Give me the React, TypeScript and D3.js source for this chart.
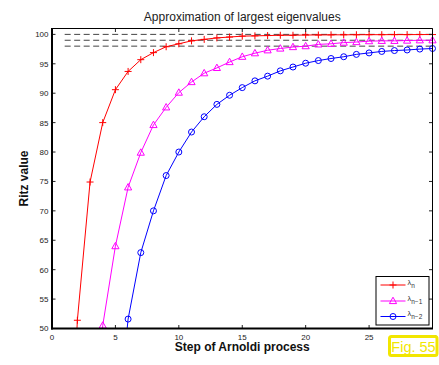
import React from "react";
import * as d3 from "d3";

// Arnoldi iteration step numbers and the Ritz values for the three largest eigenvalues
const stepsN = [1, 2, 3, 4, 5, 6, 7, 8, 9, 10, 11, 12, 13, 14, 15, 16, 17, 18, 19, 20, 21, 22, 23, 24, 25, 26, 27, 28, 29, 30];
const ritzN = [5, 51.4, 74.9, 85.0, 90.6, 93.7, 95.7, 96.9, 97.9, 98.4, 98.9, 99.15, 99.4, 99.55, 99.7, 99.75, 99.8, 99.85, 99.85, 99.9, 99.9, 99.92, 99.93, 99.94, 99.95, 99.95, 99.96, 99.96, 99.97, 99.97];

const stepsN1 = [2, 3, 4, 5, 6, 7, 8, 9, 10, 11, 12, 13, 14, 15, 16, 17, 18, 19, 20, 21, 22, 23, 24, 25, 26, 27, 28, 29, 30];
const ritzN1 = [10, 20, 50.5, 64.0, 74.0, 79.9, 84.6, 87.6, 90.1, 91.9, 93.4, 94.3, 95.3, 96.2, 96.8, 97.3, 97.6, 97.85, 98.0, 98.3, 98.4, 98.6, 98.7, 98.85, 98.9, 98.9, 98.95, 99.0, 99.0];

const stepsN2 = [3, 4, 5, 6, 7, 8, 9, 10, 11, 12, 13, 14, 15, 16, 17, 18, 19, 20, 21, 22, 23, 24, 25, 26, 27, 28, 29, 30];
const ritzN2 = [5, 15, 30, 51.6, 62.9, 70.0, 76.0, 80.0, 83.4, 86.0, 88.1, 89.65, 90.95, 92.1, 92.9, 93.8, 94.45, 95.1, 95.55, 95.9, 96.2, 96.6, 96.85, 97.1, 97.25, 97.35, 97.5, 97.6];

// Exact eigenvalues drawn as dashed reference lines
const exactEigenvalues = [100, 99, 98];
const exactFromStep = 1;

const xTicks = [0, 5, 10, 15, 20, 25, 30];
const yTicks = [50, 55, 60, 65, 70, 75, 80, 85, 90, 95, 100];

const W = 439;
const H = 365;
const L = 52;
const R = 432.5;
const T = 28.5;
const B = 328.5;
const FONT = "'Liberation Sans', Arial, Helvetica, sans-serif";

type Series = {
  steps: number[];
  values: number[];
  color: string;
  marker: "plus" | "triangle" | "circle";
  sub: string;
};

const series: Series[] = [
  { steps: stepsN, values: ritzN, color: "#ff0000", marker: "plus", sub: "n" },
  { steps: stepsN1, values: ritzN1, color: "#ff00ff", marker: "triangle", sub: "n\u22121" },
  { steps: stepsN2, values: ritzN2, color: "#0000ff", marker: "circle", sub: "n\u22122" },
];

function Marker({ kind, x, y, color }: { kind: string; x: number; y: number; color: string }) {
  if (kind === "plus") {
    return (
      <path
        d={`M${x - 3.5},${y}H${x + 3.5}M${x},${y - 3.5}V${y + 3.5}`}
        stroke={color}
        strokeWidth={1}
        fill="none"
      />
    );
  }
  if (kind === "triangle") {
    return (
      <path
        d={`M${x},${y - 3.8}L${x + 3.6},${y + 2.6}L${x - 3.6},${y + 2.6}Z`}
        stroke={color}
        strokeWidth={1}
        fill="none"
      />
    );
  }
  return <circle cx={x} cy={y} r={3} stroke={color} strokeWidth={1} fill="none" />;
}

export default function App() {
  const x = d3.scaleLinear().domain([0, 30]).range([L, R]);
  const y = d3.scaleLinear().domain([50, 101]).range([B, T]);
  const line = d3
    .line<[number, number]>()
    .x((d) => x(d[0]))
    .y((d) => y(d[1]));

  const legendX = 376;
  const legendY = 276.5;
  const legendW = 53;
  const legendH = 48.5;
  const rowY = [285, 301, 316.5];

  return (
    <svg width={W} height={H} style={{ position: "absolute", left: 0, top: 0 }} fontFamily={FONT}>
      <defs>
        <clipPath id="plotClip">
          <rect x={L} y={T} width={R - L} height={B - T} />
        </clipPath>
      </defs>
      <rect x={0} y={0} width={W} height={H} fill="#fff" />

      {/* title */}
      <text x={(L + R) / 2} y={20.5} fontSize={12} textAnchor="middle" fill="#222">
        Approximation of largest eigenvalues
      </text>

      {/* dashed exact eigenvalues */}
      {exactEigenvalues.map((v) => (
        <line
          key={v}
          x1={x(exactFromStep)}
          x2={R}
          y1={y(v)}
          y2={y(v)}
          stroke="#444"
          strokeWidth={1}
          strokeDasharray="6,3.5"
        />
      ))}

      {/* series lines */}
      <g clipPath="url(#plotClip)">
        {series.map((s) => (
          <path
            key={s.sub}
            d={line(s.steps.map((st, i) => [st, s.values[i]] as [number, number])) || ""}
            stroke={s.color}
            strokeWidth={1}
            fill="none"
          />
        ))}
      </g>
      {series.map((s) =>
        s.steps.map((st, i) =>
          s.values[i] >= 50 ? (
            <Marker key={`${s.sub}-${st}`} kind={s.marker} x={x(st)} y={y(s.values[i])} color={s.color} />
          ) : null
        )
      )}

      {/* ticks */}
      {xTicks.map((t) => (
        <g key={`x${t}`}>
          <line x1={x(t)} x2={x(t)} y1={B} y2={B - 3.5} stroke="#222" strokeWidth={1} />
          <line x1={x(t)} x2={x(t)} y1={T} y2={T + 3.5} stroke="#222" strokeWidth={1} />
          <text x={x(t)} y={339.5} fontSize={8} textAnchor="middle" fill="#222">
            {t}
          </text>
        </g>
      ))}
      {yTicks.map((t) => (
        <g key={`y${t}`}>
          <line x1={L} x2={L + 3.5} y1={y(t)} y2={y(t)} stroke="#222" strokeWidth={1} />
          <line x1={R} x2={R - 3.5} y1={y(t)} y2={y(t)} stroke="#222" strokeWidth={1} />
          <text x={48.5} y={y(t) + 2.9} fontSize={8} textAnchor="end" fill="#222">
            {t}
          </text>
        </g>
      ))}

      {/* axes box */}
      <line x1={L} x2={R} y1={T} y2={T} stroke="#000" strokeWidth={1} />
      <line x1={R} x2={R} y1={T} y2={B} stroke="#000" strokeWidth={1} />
      <line x1={L} x2={L} y1={T - 0.5} y2={B + 1} stroke="#000" strokeWidth={2} />
      <line x1={L - 1} x2={R + 0.5} y1={B} y2={B} stroke="#000" strokeWidth={2} />

      {/* axis labels */}
      <text x={(L + R) / 2} y={351} fontSize={12} fontWeight="bold" textAnchor="middle" fill="#111">
        Step of Arnoldi process
      </text>
      <text
        transform={`translate(28,${(T + B) / 2}) rotate(-90)`}
        fontSize={12}
        fontWeight="bold"
        textAnchor="middle"
        fill="#111"
      >
        Ritz value
      </text>

      {/* legend */}
      <rect x={legendX} y={legendY} width={legendW} height={legendH} fill="#fff" stroke="#000" strokeWidth={1} />
      {series.map((s, i) => (
        <g key={`leg${s.sub}`}>
          <line x1={380.5} x2={405.5} y1={rowY[i]} y2={rowY[i]} stroke={s.color} strokeWidth={1} />
          <Marker kind={s.marker} x={393} y={rowY[i]} color={s.color} />
          <text x={407.5} y={rowY[i] - 0.5} fontSize={7.5} fill="#333">
            λ
            <tspan fontSize={6.5} dy={3}>
              {s.sub}
            </tspan>
          </text>
        </g>
      ))}

      {/* figure tag */}
      <rect x={389.5} y={336.5} width={47.5} height={19} rx={2} fill="#fff" stroke="#f2e600" strokeWidth={3} />
      <text x={413.5} y={352} fontSize={14.5} textAnchor="middle" fill="#f2e600">
        Fig. 55
      </text>
    </svg>
  );
}
